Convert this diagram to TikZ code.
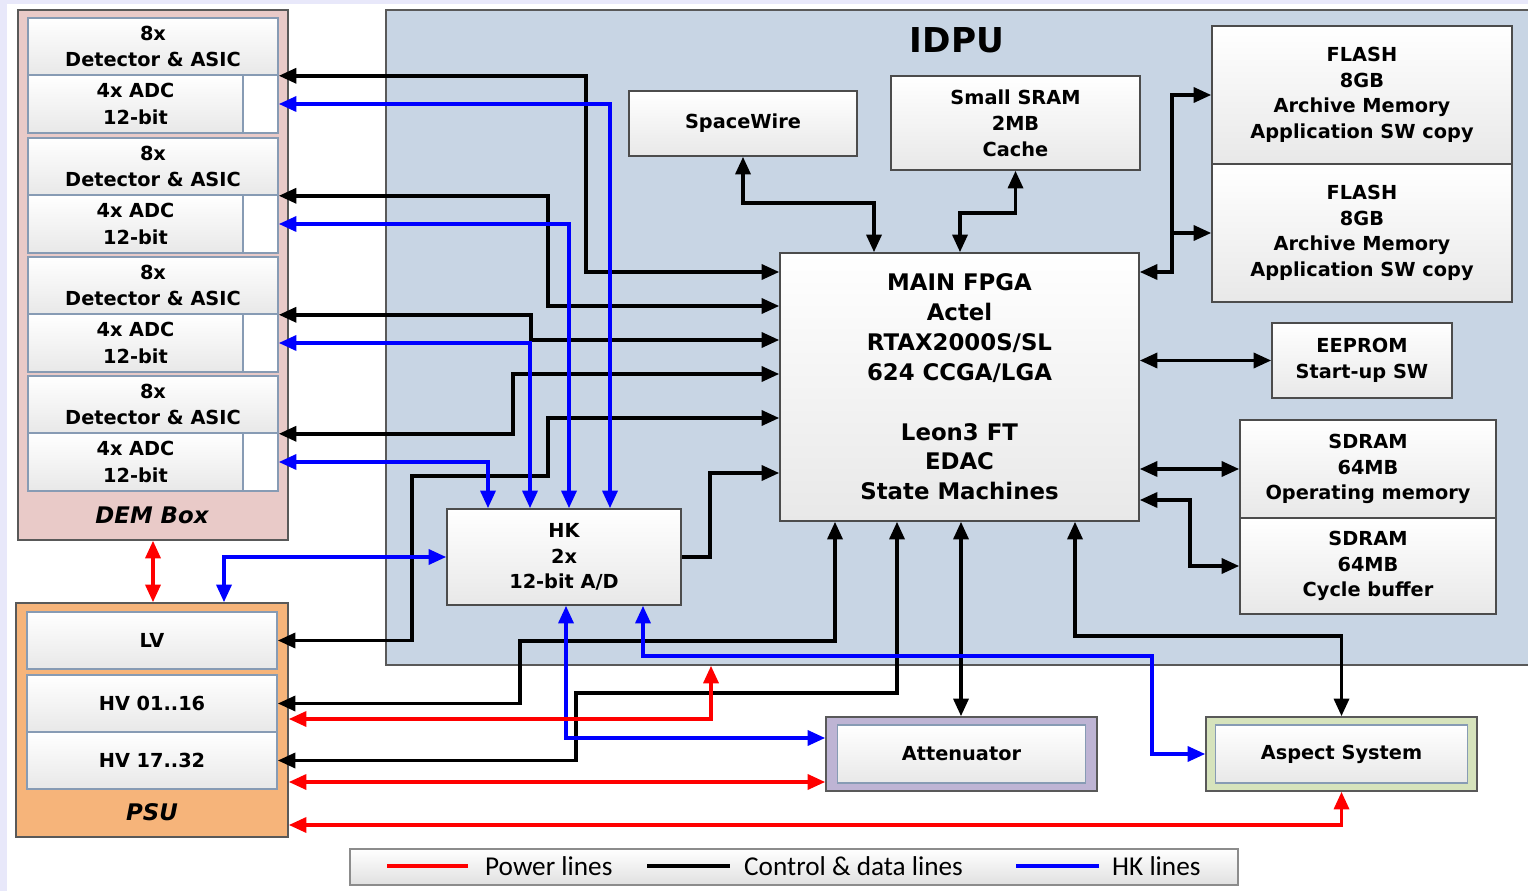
\documentclass[tikz,border=0pt]{standalone}
\usepackage{fontspec}
\setmainfont{DejaVu Sans}
\newfontfamily\legendfont{Carlito}
\usetikzlibrary{arrows.meta}
\definecolor{idpublue}{RGB}{200,213,228}
\definecolor{dempink}{RGB}{233,202,200}
\definecolor{psuorange}{RGB}{246,180,122}
\definecolor{attlilac}{RGB}{190,180,212}
\definecolor{aspgreen}{RGB}{214,227,188}
\definecolor{demedge}{RGB}{135,155,180}
\definecolor{framelav}{RGB}{232,232,250}

\begin{document}
\begin{tikzpicture}[x=0.02cm,y=-0.02cm,
    >={Triangle[length=10pt,width=8.5pt]},
    ctl/.style={line width=2pt, black},
    hkl/.style={line width=2pt, blue},
    pwr/.style={line width=2pt, red},
    unit/.style={draw=black!70, line width=0.9pt, top color=white, bottom color=black!9,
        align=center, inner sep=0pt, font=\bfseries\fontsize{11}{14.7}\selectfont},
    demunit/.style={unit, draw=demedge, font=\bfseries\fontsize{11}{15}\selectfont},
    panel/.style={draw=black!65, line width=0.9pt, inner sep=0pt}]

    % frame
    \fill[white] (0,0) rectangle (1528,891);
    \fill[framelav] (0,0) rectangle (7,891);
    \fill[framelav] (0,0) rectangle (1528,4);
    \useasboundingbox (0,0) rectangle (1528,891);

    % DEM box
    \node[panel, fill=dempink, minimum width=5.4cm, minimum height=10.6cm] (dem) at (153,275) {};
    \foreach \i/\yt in {1/18,2/138,3/257,4/376} {
        \node[demunit, minimum width=5cm, minimum height=2.3cm, top color=white, bottom color=white] (grp\i) at (153,\yt+57.5) {};
        \node[demunit, minimum width=5cm, minimum height=1.14cm] (det\i) at (153,\yt+28.5) {8x\\Detector \& ASIC};
        \node[demunit, minimum width=4.3cm, minimum height=1.16cm] (adc\i) at (135.5,\yt+86) {4x ADC\\12-bit};
    }
    \node[font=\bfseries\itshape\fontsize{13}{15}\selectfont] (demlbl) at (152,515) {DEM Box};

    % PSU
    \node[panel, fill=psuorange, minimum width=5.44cm, minimum height=4.68cm] (psu) at (152,720) {};
    \node[demunit, minimum width=5cm, minimum height=1.14cm] (lv) at (152,640.5) {LV};
    \node[demunit, minimum width=5cm, minimum height=1.14cm] (hv1) at (152,703.5) {HV 01..16};
    \node[demunit, minimum width=5cm, minimum height=1.14cm] (hv2) at (152,760.5) {HV 17..32};
    \node[font=\bfseries\itshape\fontsize{13}{15}\selectfont] (psulbl) at (152,812) {PSU};

    % IDPU
    \node[panel, fill=idpublue, minimum width=22.92cm, minimum height=13.1cm] (idpu) at (959,337.5) {};
    \node[font=\bfseries\fontsize{19.5}{22}\selectfont] (idpulbl) at (957,40) {IDPU};

    \node[unit, minimum width=4.56cm, minimum height=1.3cm] (spw) at (743,123.5) {SpaceWire};
    \node[unit, minimum width=4.98cm, minimum height=1.88cm] (sram) at (1015.5,123) {Small SRAM\\2MB\\Cache};
    \node[unit, minimum width=6cm, minimum height=2.76cm] (flash1) at (1362,95) {FLASH\\8GB\\Archive Memory\\Application SW copy};
    \node[unit, minimum width=6cm, minimum height=2.76cm] (flash2) at (1362,233) {FLASH\\8GB\\Archive Memory\\Application SW copy};
    \node[unit, minimum width=7.18cm, minimum height=5.36cm, font=\bfseries\fontsize{13}{17}\selectfont] (fpga) at (959.5,387)
        {MAIN FPGA\\Actel\\RTAX2000S/SL\\624 CCGA/LGA\\[17pt]Leon3 FT\\EDAC\\State Machines};
    \node[unit, minimum width=3.6cm, minimum height=1.5cm] (eeprom) at (1362,360.5) {EEPROM\\Start-up SW};
    \node[unit, minimum width=5.12cm, minimum height=1.96cm] (sdram1) at (1368,469) {SDRAM\\64MB\\Operating memory};
    \node[unit, minimum width=5.12cm, minimum height=1.92cm] (sdram2) at (1368,566) {SDRAM\\64MB\\Cycle buffer};
    \node[unit, minimum width=4.68cm, minimum height=1.92cm] (hk) at (564,557) {HK\\2x\\12-bit A/D};

    % attenuator and aspect system
    \node[panel, fill=attlilac, minimum width=5.42cm, minimum height=1.48cm] (att) at (961.5,754) {};
    \node[unit, draw=demedge, minimum width=4.96cm, minimum height=1.16cm] (attin) at (961.5,754) {Attenuator};
    \node[panel, fill=aspgreen, minimum width=5.42cm, minimum height=1.48cm] (asp) at (1341.5,754) {};
    \node[unit, draw=demedge, minimum width=5.04cm, minimum height=1.16cm] (aspin) at (1341.5,754) {Aspect System};

    % control & data lines
    \draw[ctl,<->] (det1.south east) -| (586,272) -- (fpga.west |- 0,272);
    \draw[ctl,<->] (det2.south east) -| (548,306) -- (fpga.west |- 0,306);
    \draw[ctl,<->] (det3.south east) -| (531,340) -- (fpga.west |- 0,340);
    \draw[ctl,<->] (det4.south east) -| (513,374) -- (fpga.west |- 0,374);
    \draw[ctl,<->] (lv.east) -| (412,476) -| (548,418) -- (fpga.west |- 0,418);
    \draw[ctl,->] (hk.east) -| (710,473) -- (fpga.west |- 0,473);
    \draw[ctl,<->] (hv1.east) -| (520,641) -| (fpga.south -| 835,0);
    \draw[ctl,<->] (hv2.east) -| (576,693) -| (fpga.south -| 897,0);
    \draw[ctl,<->] (fpga.south -| 961,0) -- (att.north -| 961,0);
    \draw[ctl,<->] (fpga.south -| 1075,0) |- (asp.north |- 0,636) -- (asp.north);
    \draw[ctl,<->] (spw.south) |- (874,203) -- (fpga.north -| 874,0);
    \draw[ctl,<->] (sram.south) |- (960,213) -- (fpga.north -| 960,0);
    \draw[ctl,<->] (fpga.east |- 0,272) -| (1172,95) -- (flash1.west);
    \coordinate (flashbus) at (1172,233);
    \draw[ctl,->] (flashbus) -- (flash2.west);
    \draw[ctl,<->] (fpga.east |- eeprom.west) -- (eeprom.west);
    \draw[ctl,<->] (fpga.east |- sdram1.west) -- (sdram1.west);
    \draw[ctl,<->] (fpga.east |- 0,500) -| (1190,566) -- (sdram2.west);

    % HK lines
    \draw[hkl,<->] (grp1.east |- adc1.center) -| (610,0 |- hk.north);
    \draw[hkl,<->] (grp2.east |- adc2.center) -| (569,0 |- hk.north);
    \draw[hkl,<->] (grp3.east |- adc3.center) -| (530,0 |- hk.north);
    \draw[hkl,<->] (grp4.east |- adc4.center) -| (488,0 |- hk.north);
    \draw[hkl,<->] (psu.north -| 224,0) |- (hk.west);
    \draw[hkl,<->] (att.west |- 0,738) -| (hk.south -| 566,0);
    \draw[hkl,<->] (asp.west) -| (1152,656) -| (hk.south -| 643,0);

    % power lines
    \draw[pwr,<->] (dem.south) -- (dem.south |- psu.north);
    \draw[pwr,<->] (psu.east |- 0,719) -| (idpu.south -| 711,0);
    \draw[pwr,<->] (psu.east |- 0,782) -- (att.west |- 0,782);
    \draw[pwr,<->] (psu.east |- 0,825) -| (asp.south);

    % legend
    \node[panel, draw=black!45, top color=white, bottom color=black!12, minimum width=17.76cm, minimum height=0.72cm] (lg) at (794,867) {};
    \draw[pwr] (387,866) -- (468,866);
    \node[anchor=west, font=\legendfont\fontsize{15.5}{17}\selectfont] (lgpwr) at (479,866) {Power lines};
    \draw[ctl] (647,866) -- (730,866);
    \node[anchor=west, font=\legendfont\fontsize{15.5}{17}\selectfont] (lgctl) at (738,866) {Control \& data lines};
    \draw[hkl] (1016,866) -- (1099,866);
    \node[anchor=west, font=\legendfont\fontsize{15.5}{17}\selectfont] (lghk) at (1106,866) {HK lines};
\end{tikzpicture}
\end{document}
